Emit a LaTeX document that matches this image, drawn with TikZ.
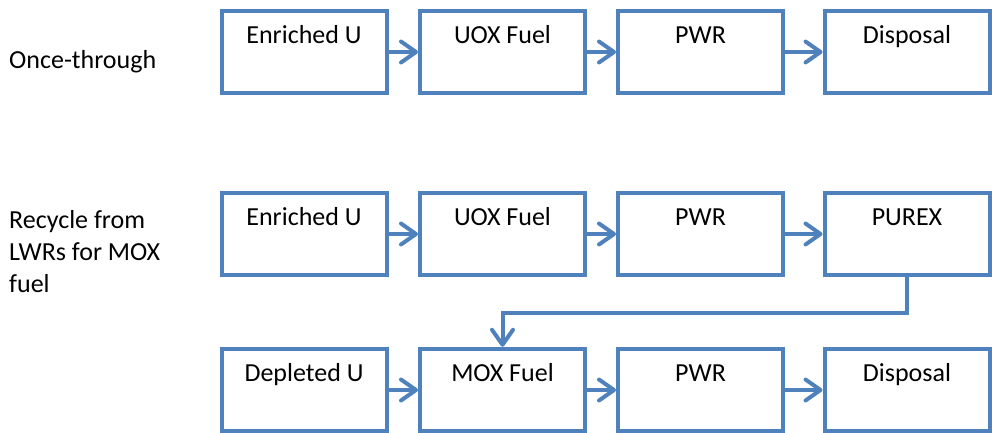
\documentclass[tikz,border=0pt]{standalone}
\usepackage{fontspec}
\setmainfont{Carlito}
\usetikzlibrary{arrows.meta}
\definecolor{flowblue}{HTML}{4F81BD}
\tikzset{
  stage/.style={draw=flowblue, line width=4pt, fill=white,
    minimum width=165pt, inner xsep=0pt, inner ysep=0pt,
    text height=32.5pt, text depth=50pt, outer sep=2pt,
    font=\fontsize{26}{31.6}\selectfont},
  flow/.style={draw=flowblue, line width=4pt,
    -{Straight Barb[length=15pt,width=21pt,line cap=round,line join=round]}},
  rowlabel/.style={anchor=base west, align=left, inner sep=0pt,
    font=\fontsize{26}{31.6}\selectfont}
}
\begin{document}
\begin{tikzpicture}[x=1pt,y=-1pt]
  \useasboundingbox (0,0) rectangle (992,432);

  % row labels (base anchor sits on the last line)
  \node[rowlabel] (lblonce) at (9,68.3) {Once-through};
  \node[rowlabel] (lblrec) at (9,292) {Recycle from\\LWRs for MOX\\fuel};

  % once-through cycle
  \node[stage] (o1) at (304,52) {Enriched U};
  \node[stage] (o2) at (502.5,52) {UOX Fuel};
  \node[stage] (o3) at (700.5,52) {PWR};
  \node[stage] (o4) at (907,52) {Disposal};

  % recycle cycle, first pass
  \node[stage] (r1) at (304,234) {Enriched U};
  \node[stage] (r2) at (502.5,234) {UOX Fuel};
  \node[stage] (r3) at (700.5,234) {PWR};
  \node[stage] (r4) at (907,234) {PUREX};

  % recycle cycle, MOX pass
  \node[stage] (m1) at (304,390) {Depleted U};
  \node[stage] (m2) at (502.5,390) {MOX Fuel};
  \node[stage] (m3) at (700.5,390) {PWR};
  \node[stage] (m4) at (907,390) {Disposal};

  \draw[flow] (o1.east) -- (o2.west);
  \draw[flow] (o2.east) -- (o3.west);
  \draw[flow] (o3.east) -- (o4.west);

  \draw[flow] (r1.east) -- (r2.west);
  \draw[flow] (r2.east) -- (r3.west);
  \draw[flow] (r3.east) -- (r4.west);

  \draw[flow] (m1.east) -- (m2.west);
  \draw[flow] (m2.east) -- (m3.west);
  \draw[flow] (m3.east) -- (m4.west);

  % plutonium from reprocessing feeds the MOX fuel
  \coordinate (turn) at (907,313);
  \draw[flow, line join=miter] (r4.south) -- (turn) -| (m2.north);
\end{tikzpicture}
\end{document}
